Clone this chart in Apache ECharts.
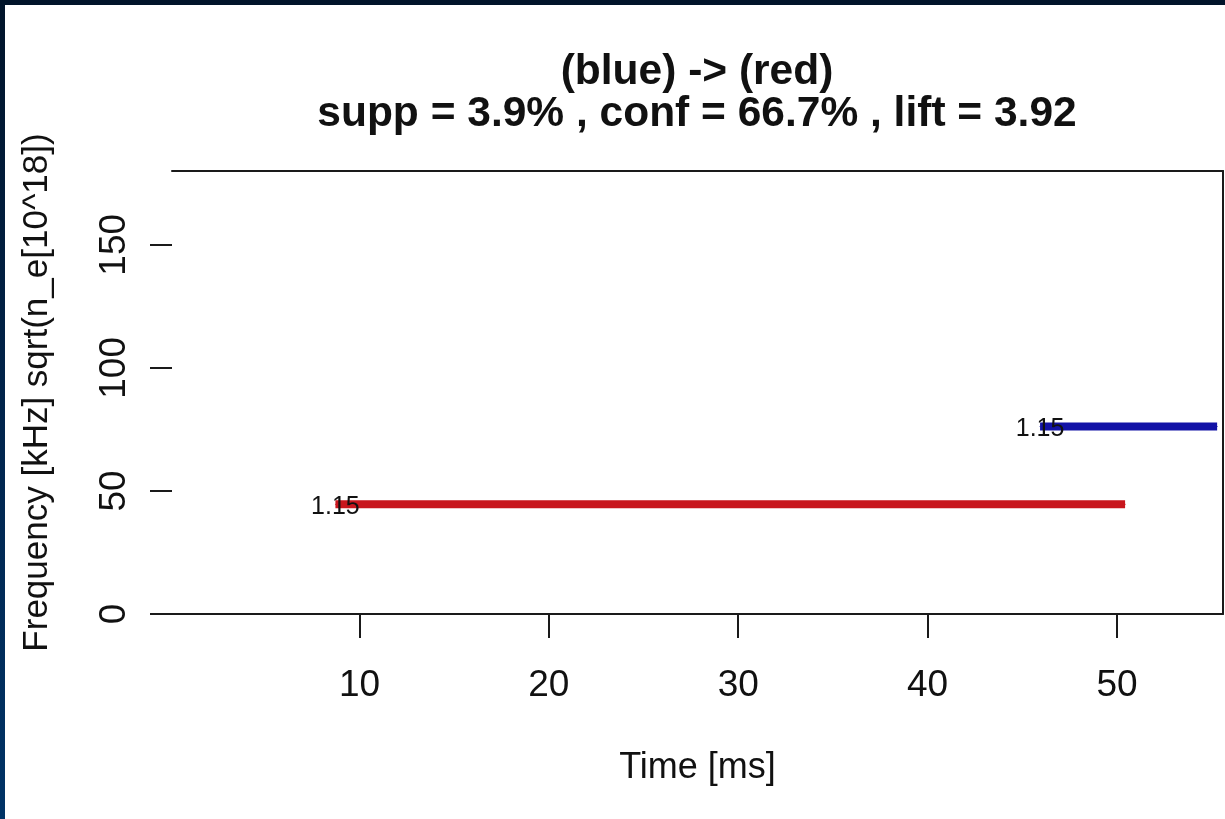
<!DOCTYPE html>
<html>
<head>
<meta charset="utf-8">
<title>(blue) -> (red)</title>
<script src="https://cdn.jsdelivr.net/npm/echarts@6/dist/echarts.min.js"></script>
<style>
  html, body { margin: 0; padding: 0; width: 1225px; height: 819px; overflow: hidden; }
  body { background: linear-gradient(to bottom, #01142a 0%, #01264f 55%, #003366 100%); position: relative; }
  #paper { position: absolute; left: 5px; top: 5px; right: 0; bottom: 0; background: #ffffff; }
  #chart { position: absolute; left: 0; top: 0; width: 1225px; height: 819px; }
</style>
</head>
<body>
<div id="paper"></div>
<div id="chart"></div>
<script>
// Rule segments: each colour is one interval in time at a given frequency
const ruleNames = ['red', 'blue'];
const timeStart = [8.73, 45.94];     // ms
const timeEnd = [50.43, 55.29];      // ms
const frequency = [44.6, 76.2];      // kHz
const ruleLabels = ['1.15', '1.15'];

// Axis ticks
const xTicks = [10, 20, 30, 40, 50];
const yTicks = [0, 50, 100, 150];

const titleLines = ['(blue) -> (red)', 'supp = 3.9% , conf = 66.7% , lift = 3.92'];

const lineColors = { red: '#c8161d', blue: '#1212a6' };
const ink = '#111111';
const font = 'Liberation Sans, Arial, sans-serif';

const series = ruleNames.map((name, i) => ({
  name: name,
  type: 'line',
  xAxisIndex: 0,
  yAxisIndex: 0,
  symbol: 'circle',
  symbolSize: 1,
  showSymbol: true,
  silent: true,
  z: 3,
  itemStyle: { color: lineColors[name] },
  lineStyle: { color: lineColors[name], width: 8, cap: 'butt' },
  emphasis: { disabled: true },
  data: [
    {
      value: [timeStart[i], frequency[i]],
      label: {
        show: true,
        formatter: ruleLabels[i],
        position: 'inside',
        offset: [0, 3],
        color: ink,
        fontFamily: font,
        fontSize: 25
      }
    },
    [timeEnd[i], frequency[i]]
  ]
}));

const chart = echarts.init(document.getElementById('chart'), null, { renderer: 'canvas' });
chart.setOption({
  animation: false,
  backgroundColor: 'transparent',
  title: {
    text: titleLines.join('\n'),
    left: 697,
    top: 51,
    padding: 0,
    textAlign: 'center',
    textStyle: {
      color: ink,
      fontFamily: font,
      fontWeight: 'bold',
      fontSize: 42.5,
      lineHeight: 42.5
    }
  },
  grid: { left: 172, right: 2, top: 171, bottom: 205, containLabel: false },
  xAxis: [
    {
      type: 'value',
      position: 'bottom',
      min: 0.1,
      max: 55.6,
      name: 'Time [ms]',
      nameLocation: 'middle',
      nameGap: 136,
      nameTextStyle: { color: ink, fontFamily: font, fontSize: 36 },
      axisLine: { show: true, onZero: false, lineStyle: { color: '#1a1a1a', width: 2 } },
      axisTick: { show: true, length: 24, customValues: xTicks, lineStyle: { color: '#1a1a1a', width: 2 } },
      axisLabel: { customValues: xTicks, margin: 53, color: ink, fontFamily: font, fontSize: 37 },
      splitLine: { show: false }
    },
    {
      type: 'value',
      position: 'top',
      min: 0.1,
      max: 55.6,
      axisLine: { show: true, onZero: false, lineStyle: { color: '#1a1a1a', width: 2 } },
      axisTick: { show: false },
      axisLabel: { show: false },
      splitLine: { show: false }
    }
  ],
  yAxis: [
    {
      type: 'value',
      position: 'left',
      min: 0,
      max: 180,
      name: 'Frequency [kHz] sqrt(n_e[10^18])',
      nameLocation: 'middle',
      nameGap: 117,
      nameRotate: 90,
      nameTextStyle: { color: ink, fontFamily: font, fontSize: 35 },
      axisLine: { show: false, onZero: false },
      axisTick: { show: true, length: 22, customValues: yTicks, lineStyle: { color: '#1a1a1a', width: 2 } },
      axisLabel: { customValues: yTicks, rotate: 90, margin: 39, color: ink, fontFamily: font, fontSize: 37 },
      splitLine: { show: false }
    },
    {
      type: 'value',
      position: 'right',
      min: 0,
      max: 180,
      axisLine: { show: true, onZero: false, lineStyle: { color: '#1a1a1a', width: 2 } },
      axisTick: { show: false },
      axisLabel: { show: false },
      splitLine: { show: false }
    }
  ],
  series: series
});
</script>
</body>
</html>
